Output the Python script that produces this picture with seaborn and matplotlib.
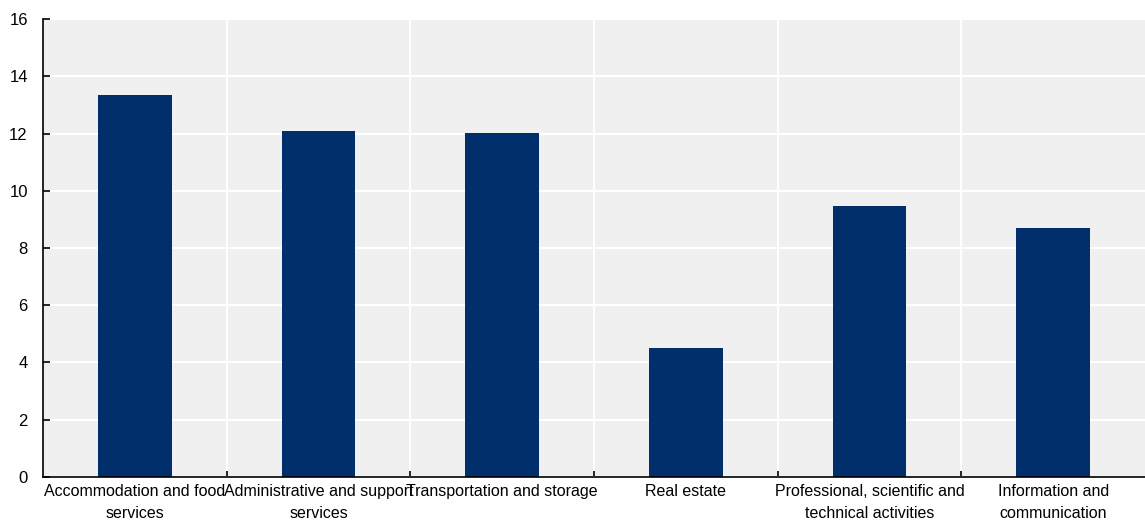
import numpy as np
import pandas as pd
import matplotlib
matplotlib.use("Agg")
import matplotlib.pyplot as plt
import seaborn as sns

sectors = [
    "Accommodation and food\nservices",
    "Administrative and support\nservices",
    "Transportation and storage",
    "Real estate",
    "Professional, scientific and\ntechnical activities",
    "Information and\ncommunication",
]
values = [13.34, 12.08, 12.02, 4.51, 9.47, 8.70]

df = pd.DataFrame({"sector": sectors, "value": values})

sns.set_theme(style="white")
plt.rcParams["font.family"] = ["Liberation Sans", "DejaVu Sans"]

fig = plt.figure(figsize=(11.45, 5.21), dpi=100)
ax = fig.add_axes([0.0376, 0.0845, 0.9624, 0.879])

sns.barplot(data=df, x="sector", y="value", color="#002f6c", saturation=1,
            width=0.4, linewidth=0, ax=ax)

ax.set_facecolor("#f0f0f0")
ax.set_ylim(0, 16)
ax.set_xlim(-0.5, len(sectors) - 0.5)
ax.set_yticks(np.arange(0, 17, 2))
ax.set_xlabel("")
ax.set_ylabel("")

# category separators
ax.set_xticks(np.arange(0.5, len(sectors) - 0.5, 1), minor=True)
ax.grid(axis="y", color="white", linewidth=1.5)
ax.grid(axis="x", which="minor", color="white", linewidth=1.5)
ax.set_axisbelow(True)

for s in ["top", "right"]:
    ax.spines[s].set_visible(False)
ax.spines["left"].set_color("black")
ax.spines["bottom"].set_color("black")
ax.spines["left"].set_linewidth(1.2)
ax.spines["bottom"].set_linewidth(1.2)

ax.tick_params(axis="x", which="major", length=0, labelsize=11.5, pad=5, colors="black")
ax.tick_params(axis="x", which="minor", direction="in", length=4, width=1.2, colors="black", bottom=True)
ax.tick_params(axis="y", direction="in", length=5, width=1.2, labelsize=12, pad=11, colors="black", left=True)
for lbl in ax.get_xticklabels():
    lbl.set_linespacing(1.55)

fig.savefig("out.png", dpi=100)
